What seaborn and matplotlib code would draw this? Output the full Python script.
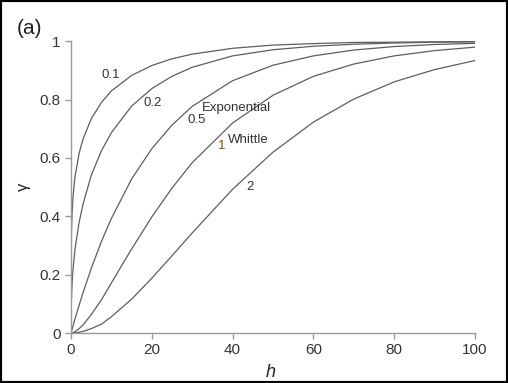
import matplotlib
matplotlib.use("Agg")
import matplotlib.pyplot as plt
import seaborn as sns
import pandas as pd
from matplotlib.patches import Rectangle

# lag distance h
h = [0, 0.1, 0.25, 0.5, 1, 2, 3, 5, 7.5, 10, 15, 20, 25, 30, 40, 50, 60, 70, 80, 90, 100]

# semivariance curves, one per smoothness value
gamma_01 = [0, 0.339, 0.407, 0.468, 0.537, 0.616, 0.666, 0.734, 0.790, 0.830, 0.883, 0.917,
            0.940, 0.956, 0.976, 0.987, 0.992, 0.996, 0.997, 0.998, 0.999]
gamma_02 = [0, 0.115, 0.167, 0.220, 0.289, 0.379, 0.443, 0.540, 0.624, 0.687, 0.778, 0.838,
            0.880, 0.911, 0.950, 0.971, 0.983, 0.990, 0.994, 0.997, 0.998]
gamma_05 = [0, 0.005, 0.012, 0.025, 0.049, 0.095, 0.139, 0.221, 0.313, 0.393, 0.528, 0.632,
            0.713, 0.777, 0.865, 0.918, 0.950, 0.970, 0.982, 0.989, 0.993]
gamma_1 = [0, 0.0, 0.0001, 0.0013, 0.0045, 0.015, 0.028, 0.063, 0.113, 0.172, 0.288, 0.398,
           0.497, 0.584, 0.720, 0.815, 0.880, 0.922, 0.950, 0.968, 0.980]
gamma_2 = [0, 0.0, 0.0, 0.0002, 0.0006, 0.0025, 0.0055, 0.015, 0.030, 0.056, 0.116, 0.188,
           0.265, 0.343, 0.493, 0.620, 0.723, 0.802, 0.861, 0.903, 0.934]

nu_names = ['0.1', '0.2', '0.5', '1', '2']
curves = [gamma_01, gamma_02, gamma_05, gamma_1, gamma_2]

rows = []
for name, g in zip(nu_names, curves):
    for hv, gv in zip(h, g):
        rows.append((name, hv, gv))
df = pd.DataFrame(rows, columns=['nu', 'h', 'gamma'])

sns.set_style("ticks")
plt.rcParams['font.family'] = ['Liberation Sans', 'DejaVu Sans']

fig = plt.figure(figsize=(5.08, 3.83), dpi=100)
ax = fig.add_axes([0.1398, 0.1305, 0.7953, 0.7617])

sns.lineplot(data=df, x='h', y='gamma', hue='nu', palette=['#5e5e5e'] * 5,
             estimator=None, sort=False, legend=False, linewidth=0.9, ax=ax)

ax.set_xlim(0, 100)
ax.set_ylim(0, 1)
ax.set_xticks([0, 20, 40, 60, 80, 100])
ax.set_yticks([0, 0.2, 0.4, 0.6, 0.8, 1])
ax.set_yticklabels(['0', '0.2', '0.4', '0.6', '0.8', '1'])
sns.despine(ax=ax)
for s in ['left', 'bottom']:
    ax.spines[s].set_color('#999999')
    ax.spines[s].set_linewidth(1.0)
ax.tick_params(colors='#999999', labelcolor='#333333', labelsize=11, length=4, width=1)

ax.set_xlabel('h', fontsize=13, style='italic', color='#222222')
ax.set_ylabel('γ', fontsize=12, color='#222222')
ax.xaxis.set_label_coords(0.495, -0.134)
ax.xaxis.label.set_va('center')
ax.yaxis.set_label_coords(-0.119, 0.5)
ax.yaxis.label.set_va('center')

# curve labels
lab = dict(fontsize=9.5, color='#333333', va='center')
ax.text(9.9, 0.885, '0.1', ha='center', **lab)
ax.text(20.3, 0.787, '0.2', ha='center', **lab)
ax.text(31.2, 0.73, '0.5', ha='center', **lab)
ax.text(32.4, 0.772, 'Exponential', ha='left', **lab)
ax.text(37.3, 0.64, '1', ha='center', fontsize=9.5, color='#8a4a1a', va='center')
ax.text(38.9, 0.66, 'Whittle', ha='left', **lab)
ax.text(44.3, 0.502, '2', ha='center', **lab)

fig.text(17 / 508, 1 - 29 / 383, '(a)', fontsize=15, color='#222222', ha='left', va='center')

fig.patches.append(Rectangle((0, 0), 1, 1, transform=fig.transFigure, fill=False,
                             edgecolor='black', linewidth=3))

fig.savefig('out.png', dpi=100)
